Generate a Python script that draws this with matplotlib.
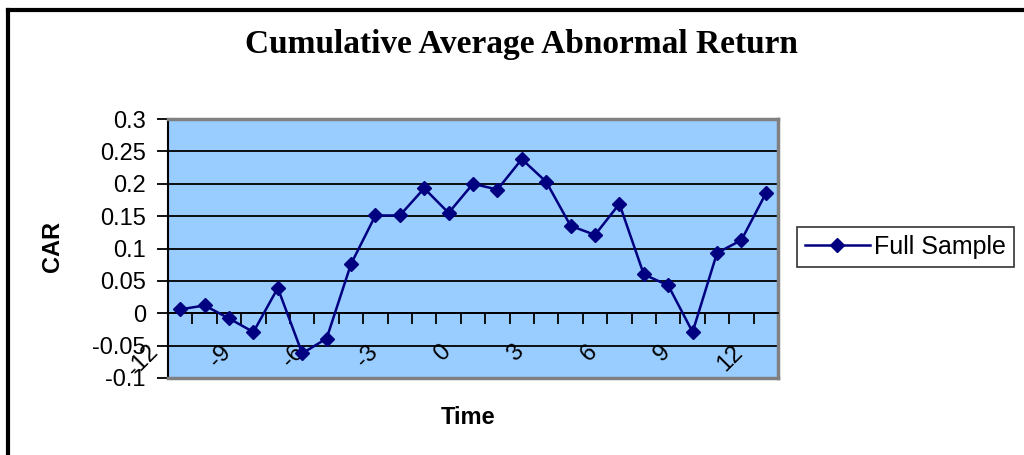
import matplotlib
matplotlib.use("Agg")
import matplotlib.pyplot as plt
import matplotlib.transforms as mtrans
from matplotlib.lines import Line2D
import numpy as np

plt.rcParams['font.family'] = ['Liberation Sans', 'DejaVu Sans']

# event time and cumulative average abnormal return
time = list(range(-12, 13))
car = [0.006, 0.012, -0.008, -0.029, 0.039, -0.062, -0.039, 0.076, 0.151, 0.151,
       0.193, 0.155, 0.200, 0.191, 0.238, 0.203, 0.135, 0.121, 0.169, 0.060,
       0.043, -0.029, 0.093, 0.113, 0.185]
xtick_vals = [-12, -9, -6, -3, 0, 3, 6, 9, 12]
ytick_vals = [-0.1, -0.05, 0, 0.05, 0.1, 0.15, 0.2, 0.25, 0.3]

W, H = 1024, 455
fig = plt.figure(figsize=(W / 100, H / 100), dpi=100)
ax = fig.add_axes([168 / W, 1 - 378 / H, 610 / W, 259 / H])
ax.set_facecolor('#99CCFF')

navy = '#000080'
ax.plot(time, car, color=navy, lw=1.8, marker='D', markersize=7.5,
        markerfacecolor=navy, markeredgecolor=navy, label='Full Sample', zorder=4)

ax.set_xlim(-12.5, 12.5)
ax.set_ylim(-0.1, 0.3)

# horizontal gridlines
for v in ytick_vals[1:-1]:
    ax.axhline(v, color='black', lw=1.3, zorder=1)

# y axis
ax.set_yticks(ytick_vals)
ax.set_yticklabels(['%g' % v for v in ytick_vals])
ax.tick_params(axis='y', direction='out', length=8, width=1.3, pad=8, labelsize=17)

# x axis crosses at 0, ticks between categories
ax.spines['bottom'].set_position(('data', 0))
ax.spines['bottom'].set_linewidth(1.3)
ax.set_xticks(xtick_vals)
ax.set_xticklabels([str(v) for v in xtick_vals], rotation=45, ha='right')
ax.set_xticks(np.arange(-12.5, 12.6, 1), minor=True)
ax.tick_params(axis='x', which='major', length=0, pad=20, labelsize=17)
ax.tick_params(axis='x', which='minor', direction='out', length=8, width=1.3)
shift = mtrans.ScaledTranslation(-18 / 100, 0, fig.dpi_scale_trans)
for lab in ax.get_xticklabels():
    lab.set_transform(lab.get_transform() + shift)

# plot area frame
ax.spines['left'].set_linewidth(1.5)
for s in ['top', 'right']:
    ax.spines[s].set_color('#808080')
    ax.spines[s].set_linewidth(2.5)
ax.plot([0, 1], [0, 0], transform=ax.transAxes, color='#808080', lw=2.5,
        clip_on=False, zorder=5)

# chart border (top and left edges visible)
fig.add_artist(Line2D([8 / W, 8 / W], [0, 1 - 10 / H], color='black', lw=3,
                      transform=fig.transFigure))
fig.add_artist(Line2D([8 / W, 1], [1 - 10 / H, 1 - 10 / H], color='black', lw=3,
                      transform=fig.transFigure))

fig.text(521 / W, 1 - 45 / H, 'Cumulative Average Abnormal Return', ha='center',
         va='center', fontsize=24, fontweight='bold', family='Liberation Serif')
fig.text(52 / W, 1 - 247 / H, 'CAR', rotation=90, ha='center', va='center',
         fontsize=17, fontweight='bold')
fig.text(468 / W, 1 - 417 / H, 'Time', ha='center', va='center',
         fontsize=17, fontweight='bold')

leg = fig.legend(loc='center left', bbox_to_anchor=(797 / W, 1 - 247 / H),
                 fontsize=18, frameon=True, fancybox=False, edgecolor='black',
                 handlelength=2.6, borderpad=0.3, handletextpad=0.2,
                 borderaxespad=0)
leg.get_frame().set_linewidth(1.2)

fig.savefig('out.png', dpi=100)
